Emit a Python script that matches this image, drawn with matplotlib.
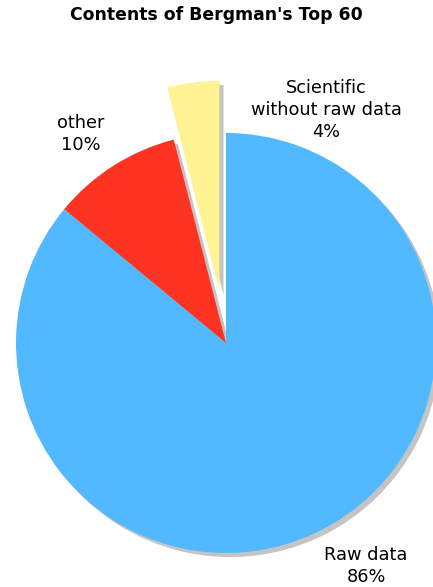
import matplotlib
matplotlib.use("Agg")
import matplotlib.pyplot as plt

categories = ["Raw data", "other", "Scientific\nwithout raw data"]
shares = [86, 10, 4]
colors = ["#52b8ff", "#ff3322", "#fff394"]
explode = [0, 0, 0.25]

W, H = 433, 587
cx, cy, r = 226, 343, 210  # pixel centre / radius of the pie

fig = plt.figure(figsize=(W / 100, H / 100), dpi=100)
ax = fig.add_axes([0, 0, 1, 1])

labels = [f"{c}\n{v}%" for c, v in zip(categories, shares)]
wedges, texts = ax.pie(
    shares, labels=labels, colors=colors, explode=explode,
    startangle=90, counterclock=False, labeldistance=1.23,
    shadow={"ox": 0.014, "oy": -0.014, "facecolor": "#c4c4c4",
            "edgecolor": "none", "alpha": 1},
    wedgeprops={"linewidth": 0},
    textprops={"fontsize": 12.8, "ha": "center", "va": "center",
               "linespacing": 1.3},
)
# nudge labels to where the original chart puts them
label_pos = [(366, 566), (81, 134), (326, 110)]
for t, (px, py) in zip(texts, label_pos):
    t.set_ha("center")
    t.set_position(((px - cx) / r, (cy - py) / r))

ax.set_xlim(-cx / r, (W - cx) / r)
ax.set_ylim(-(H - cy) / r, cy / r)
ax.set_aspect("auto")
ax.axis("off")

fig.text(0.5, 1 - 15 / H, "Contents of Bergman's Top 60", ha="center",
         va="center", fontsize=12.4, fontweight="bold")

fig.savefig("out.png", dpi=100)
